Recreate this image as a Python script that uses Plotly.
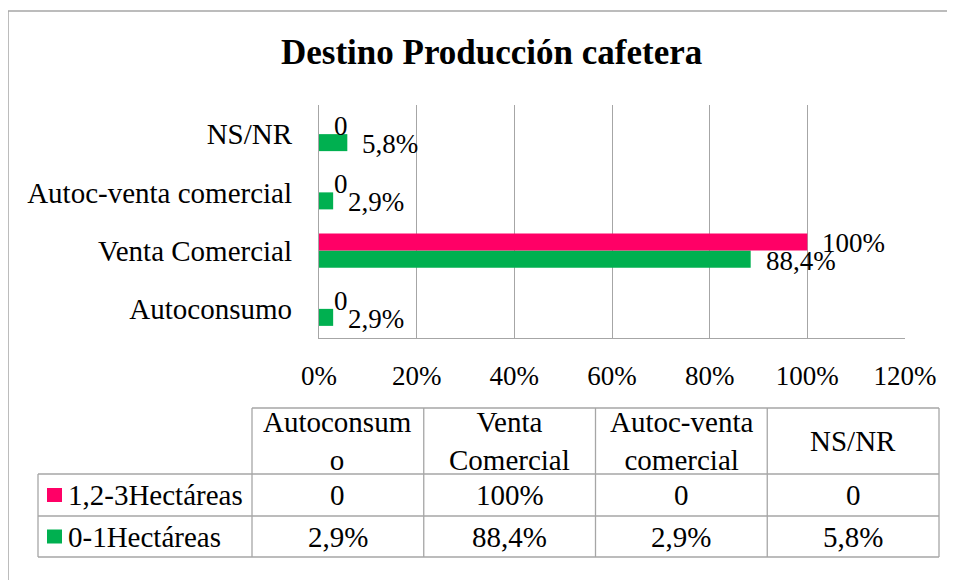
import plotly.graph_objects as go

# ---------------- data ----------------
categories = ["Autoconsumo", "Venta Comercial", "Autoc-venta comercial", "NS/NR"]
table_headers = ["Autoconsum<br>o", "Venta<br>Comercial", "Autoc-venta<br>comercial", "NS/NR"]
series_names = ["1,2-3Hectáreas", "0-1Hectáreas"]
values_12_3 = [0, 1.00, 0, 0]            # 1,2-3Hectáreas
values_0_1 = [0.029, 0.884, 0.029, 0.058]  # 0-1Hectáreas
x_ticks = [0, 0.2, 0.4, 0.6, 0.8, 1.0, 1.2]

W, H = 955, 580
OFF = 8  # page body margin offset
FONT = "Liberation Serif, Times New Roman, serif"
PINK = "#FF0066"
GREEN = "#00B050"
GRID = "#A6A6A6"
FS_CAT = 29
FS_TICK = 27
FS_DATA = 27
FS_TAB = 29


def px(x):
    return (x - OFF) / W


def py(y):
    return 1 - (y - OFF) / H


def fmt(v):
    if v == 0:
        return "0"
    p = v * 100
    if abs(p - round(p)) < 1e-9:
        return f"{int(round(p))}%"
    return f"{p:.1f}%".replace(".", ",")


fig = go.Figure()
# first trace drawn lower in each group (green below pink)
fig.add_trace(go.Bar(y=categories, x=values_0_1, orientation="h", name=series_names[1],
                     marker=dict(color=GREEN, line=dict(width=0)), showlegend=False,
                     hoverinfo="skip"))
fig.add_trace(go.Bar(y=categories, x=values_12_3, orientation="h", name=series_names[0],
                     marker=dict(color=PINK, line=dict(width=0)), showlegend=False,
                     hoverinfo="skip"))

annotations = []
# data labels
for cat, v in zip(categories, values_12_3):
    annotations.append(dict(x=v, y=cat, xref="x", yref="y", text=fmt(v), showarrow=False,
                            xanchor="left", yanchor="middle", xshift=13, yshift=8,
                            font=dict(family=FONT, size=FS_DATA, color="black")))
for cat, v in zip(categories, values_0_1):
    annotations.append(dict(x=v, y=cat, xref="x", yref="y", text=fmt(v), showarrow=False,
                            xanchor="left", yanchor="middle", xshift=13, yshift=-10,
                            font=dict(family=FONT, size=FS_DATA, color="black")))

# title
annotations.append(dict(x=px(491), y=py(53), xref="paper", yref="paper",
                        text="<b>Destino Producción cafetera</b>", showarrow=False,
                        xanchor="center", yanchor="middle",
                        font=dict(family=FONT, size=35, color="black")))

shapes = []
# outer frame (left and top edges)
shapes.append(dict(type="line", xref="paper", yref="paper", x0=px(8), x1=px(970), y0=py(11), y1=py(11),
                   line=dict(color=GRID, width=1.5)))
shapes.append(dict(type="line", xref="paper", yref="paper", x0=px(8), x1=px(8), y0=py(11), y1=py(600),
                   line=dict(color=GRID, width=1.5)))

# ---------------- data table ----------------
col_x = [252 + i * 171.75 for i in range(len(categories) + 1)]
left_x = 38
row_y = [408, 474, 516, 557]
tline = dict(color=GRID, width=1.3)


def hline(x0, x1, y):
    shapes.append(dict(type="line", xref="paper", yref="paper", x0=px(x0), x1=px(x1),
                       y0=py(y), y1=py(y), line=tline))


def vline(x, y0, y1):
    shapes.append(dict(type="line", xref="paper", yref="paper", x0=px(x), x1=px(x),
                       y0=py(y0), y1=py(y1), line=tline))


hline(col_x[0], col_x[-1], row_y[0])
for y in row_y[1:]:
    hline(left_x, col_x[-1], y)
vline(left_x, row_y[1], row_y[3])
for x in col_x:
    vline(x, row_y[0], row_y[3])

# header
for i, h in enumerate(table_headers):
    annotations.append(dict(x=px((col_x[i] + col_x[i + 1]) / 2), y=py((row_y[0] + row_y[1]) / 2),
                            xref="paper", yref="paper", text=h, showarrow=False,
                            xanchor="center", yanchor="middle",
                            font=dict(family=FONT, size=FS_TAB, color="black")))

rows = [(series_names[0], PINK, values_12_3), (series_names[1], GREEN, values_0_1)]
for r, (name, color, vals) in enumerate(rows):
    yc = (row_y[r + 1] + row_y[r + 2]) / 2
    shapes.append(dict(type="rect", xref="paper", yref="paper", x0=px(47), x1=px(62),
                       y0=py(yc - 7), y1=py(yc + 7), fillcolor=color, line=dict(width=0)))
    annotations.append(dict(x=px(66), y=py(yc), xref="paper", yref="paper", text=name,
                            showarrow=False, xanchor="left", yanchor="middle",
                            font=dict(family=FONT, size=FS_TAB, color="black")))
    for i, v in enumerate(vals):
        annotations.append(dict(x=px((col_x[i] + col_x[i + 1]) / 2), y=py(yc),
                                xref="paper", yref="paper", text=fmt(v), showarrow=False,
                                xanchor="center", yanchor="middle",
                                font=dict(family=FONT, size=FS_TAB, color="black")))

fig.update_layout(
    width=W, height=H,
    margin=dict(l=0, r=0, t=0, b=0, autoexpand=False),
    paper_bgcolor="white", plot_bgcolor="white",
    barmode="group", bargap=0.416, bargroupgap=0,
    showlegend=False,
    annotations=annotations, shapes=shapes,
    xaxis=dict(domain=[px(319), px(905)], range=[0, 1.2], tickvals=x_ticks, tickformat=".0%",
               showgrid=True, gridcolor=GRID, gridwidth=1.3, zeroline=False,
               showline=True, linecolor=GRID, linewidth=1.3, ticks="",
               ticklabelstandoff=13, automargin=False,
               tickfont=dict(family=FONT, size=FS_TICK, color="black"), fixedrange=True),
    yaxis=dict(domain=[py(338), py(105)], categoryorder="array", categoryarray=categories,
               showgrid=False, zeroline=False, showline=True, linecolor=GRID, linewidth=1.3,
               ticks="", ticklabelstandoff=20, automargin=False,
               tickfont=dict(family=FONT, size=FS_CAT, color="black"), fixedrange=True),
    font=dict(family=FONT, color="black"),
)

fig.write_html("out.html")
